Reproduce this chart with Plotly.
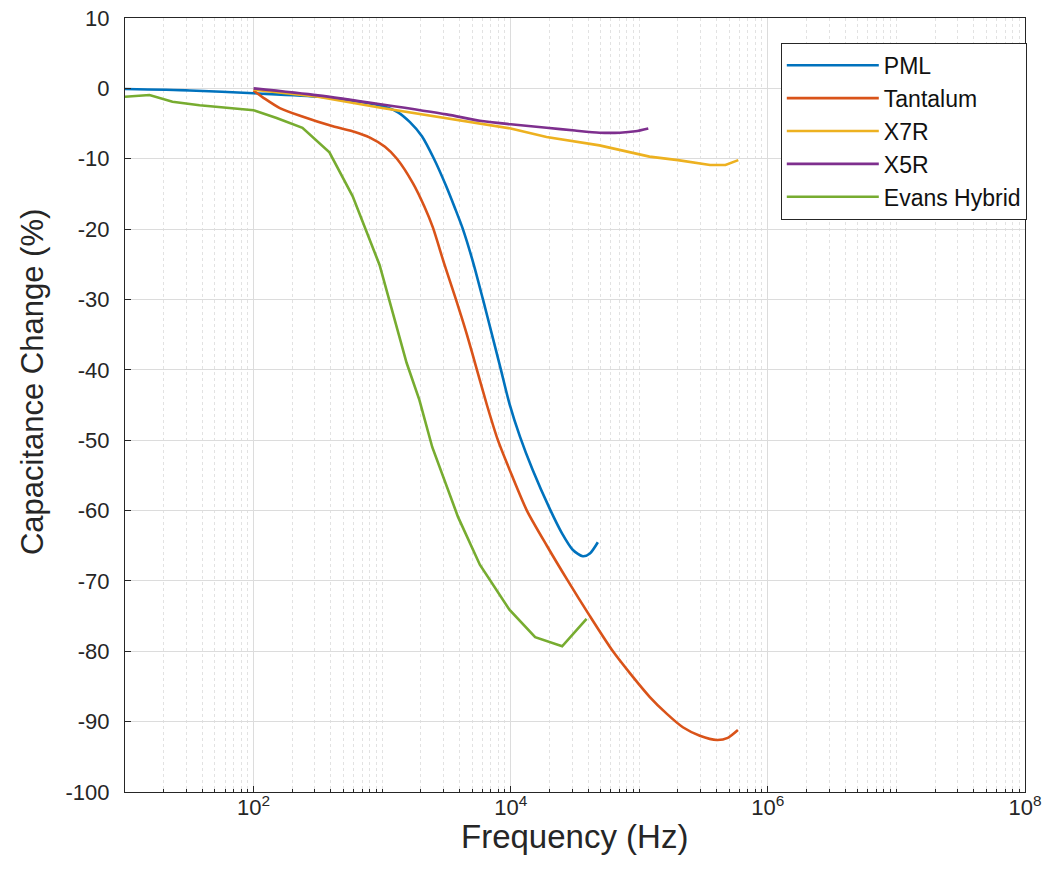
import plotly.graph_objects as go

# ---- data (frequency in Hz, capacitance change in %) ----
pml_freq = [10, 32, 100, 328, 671, 1052, 1328, 1645, 2039, 2529, 3133, 3681, 4247,
            5150, 6085, 7150, 8394, 9770, 11800, 14800, 20180, 25000, 30470, 36400,
            41300, 47600]
pml_val = [-0.1, -0.3, -0.7, -1.2, -1.9, -2.6, -3.4, -4.8, -6.8, -10, -13.8, -17.0, -20,
           -25, -30, -35, -40, -44.8, -49.5, -54.2, -59.8, -63.2, -65.6, -66.5,
           -66.1, -64.5]

tan_freq = [100, 123, 160, 230, 414, 614, 803, 1052, 1303, 1738, 2130, 2484, 3024, 3749,
            4564, 5461, 6530, 7950, 10210, 13360, 19110, 27860, 41300, 62370, 84500,
            120800, 164000, 218200, 295800, 401000, 488000, 585000]
tan_val = [-0.3, -1.5, -2.8, -3.9, -5.4, -6.2, -7.0, -8.3, -10, -13.5, -16.8, -19.8, -24.8, -30,
           -35, -40, -45, -50, -55, -60, -65, -70, -75, -80, -83.1, -86.5, -88.9,
           -90.8, -92.0, -92.6, -92.3, -91.2]

x7r_freq = [100, 316, 1000, 3162, 10000, 19000, 49000, 120000, 200000, 355000, 468000, 589000]
x7r_val = [-0.2, -1.2, -2.8, -4.3, -5.7, -6.9, -8.1, -9.7, -10.2, -10.9, -10.9, -10.2]

x5r_freq = [100, 316, 1000, 3162, 5754, 10000, 19000, 31600, 49000, 70800, 93300, 117500]
x5r_val = [0.0, -1.0, -2.3, -3.7, -4.6, -5.1, -5.6, -6.0, -6.3, -6.3, -6.1, -5.7]

evans_freq = [10, 15.5, 23.4, 38, 100, 151, 240, 389, 589, 955, 1549, 1950, 2455, 3890,
              5754, 9772, 15490, 25120, 38900]
evans_val = [-1.2, -0.95, -1.9, -2.4, -3.1, -4.2, -5.6, -9.1, -15.3, -25.1, -39, -44.3,
             -51, -60.9, -67.7, -74.1, -78, -79.3, -75.4]

series_names = ["PML", "Tantalum", "X7R", "X5R", "Evans Hybrid"]
series_colors = ["#0072BD", "#D95319", "#EDB120", "#7E2F8E", "#77AC30"]
series_shapes = ["spline", "spline", "linear", "spline", "linear"]

x_tick_vals = [1e2, 1e4, 1e6, 1e8]
x_tick_text = ["10<sup>2</sup>", "10<sup>4</sup>", "10<sup>6</sup>", "10<sup>8</sup>"]
y_tick_vals = [10, 0, -10, -20, -30, -40, -50, -60, -70, -80, -90, -100]
y_tick_text = ["10", "0", "-10", "-20", "-30", "-40", "-50", "-60", "-70", "-80", "-90", "-100"]

x_title = "Frequency (Hz)"
y_title = "Capacitance Change (%)"

# minor (dotted) grid positions on the log axis
minor_vals = []
for d in range(1, 8):
    for k in range(1, 10):
        v = k * 10 ** d
        if v not in x_tick_vals and v > 10:
            minor_vals.append(v)

FONT = "Liberation Sans, Arial, Helvetica, sans-serif"
TXT = "#262626"

fig = go.Figure()
xs = [pml_freq, tan_freq, x7r_freq, x5r_freq, evans_freq]
ys = [pml_val, tan_val, x7r_val, x5r_val, evans_val]
for name, color, shape, xv, yv in zip(series_names, series_colors, series_shapes, xs, ys):
    line = dict(color=color, width=2.6, shape=shape)
    if shape == "spline":
        line["smoothing"] = 0.7
    fig.add_trace(go.Scatter(x=xv, y=yv, mode="lines", name=name, line=line))

fig.update_xaxes(
    type="log", range=[1, 8], automargin=False,
    tickmode="array", tickvals=x_tick_vals, ticktext=x_tick_text,
    ticks="inside", ticklen=6, tickcolor=TXT, tickwidth=1,
    showgrid=True, gridcolor="#dcdcdc", gridwidth=1,
    showline=True, linecolor=TXT, linewidth=1, mirror=True,
    zeroline=False, ticklabeloverflow="allow", ticklabelstandoff=-4,
    tickfont=dict(family=FONT, size=22, color=TXT),
    minor=dict(tickmode="array", tickvals=minor_vals, showgrid=True, gridcolor="#e2e2e2",
               griddash="dot", gridwidth=1, ticks="inside", ticklen=3, tickcolor=TXT),
)
fig.update_yaxes(
    range=[-100, 10], automargin=False,
    tickmode="array", tickvals=y_tick_vals, ticktext=y_tick_text,
    ticks="inside", ticklen=6, tickcolor=TXT, tickwidth=1,
    showgrid=True, gridcolor="#dcdcdc", gridwidth=1,
    showline=True, linecolor=TXT, linewidth=1, mirror=True,
    zeroline=False, ticklabeloverflow="allow",
    tickfont=dict(family=FONT, size=22, color=TXT),
    ticklabelstandoff=10,
)

fig.add_annotation(text=x_title, xref="paper", yref="paper", x=0.499, y=-0.058,
                   xanchor="center", yanchor="middle", showarrow=False,
                   font=dict(family=FONT, size=33, color=TXT))
fig.add_annotation(text=y_title, xref="paper", yref="paper", x=-0.103, y=0.53,
                   xanchor="center", yanchor="middle", showarrow=False, textangle=-90,
                   font=dict(family=FONT, size=31, color=TXT))

fig.update_layout(
    width=1048, height=877,
    margin=dict(l=125, r=23, t=18, b=85),
    paper_bgcolor="white", plot_bgcolor="white",
    font=dict(family=FONT, color=TXT),
    legend=dict(
        x=1.002, xanchor="right", y=0.968, yanchor="top",
        bgcolor="white", bordercolor=TXT, borderwidth=1,
        font=dict(family=FONT, size=23, color="#111111"),
        tracegroupgap=0, itemwidth=92,
    ),
    showlegend=True,
)

# remove the default 8px page margin so the figure fills the window exactly
fig.write_html("out.html", config={"displayModeBar": False},
               post_script="document.body.style.margin='0px';")
